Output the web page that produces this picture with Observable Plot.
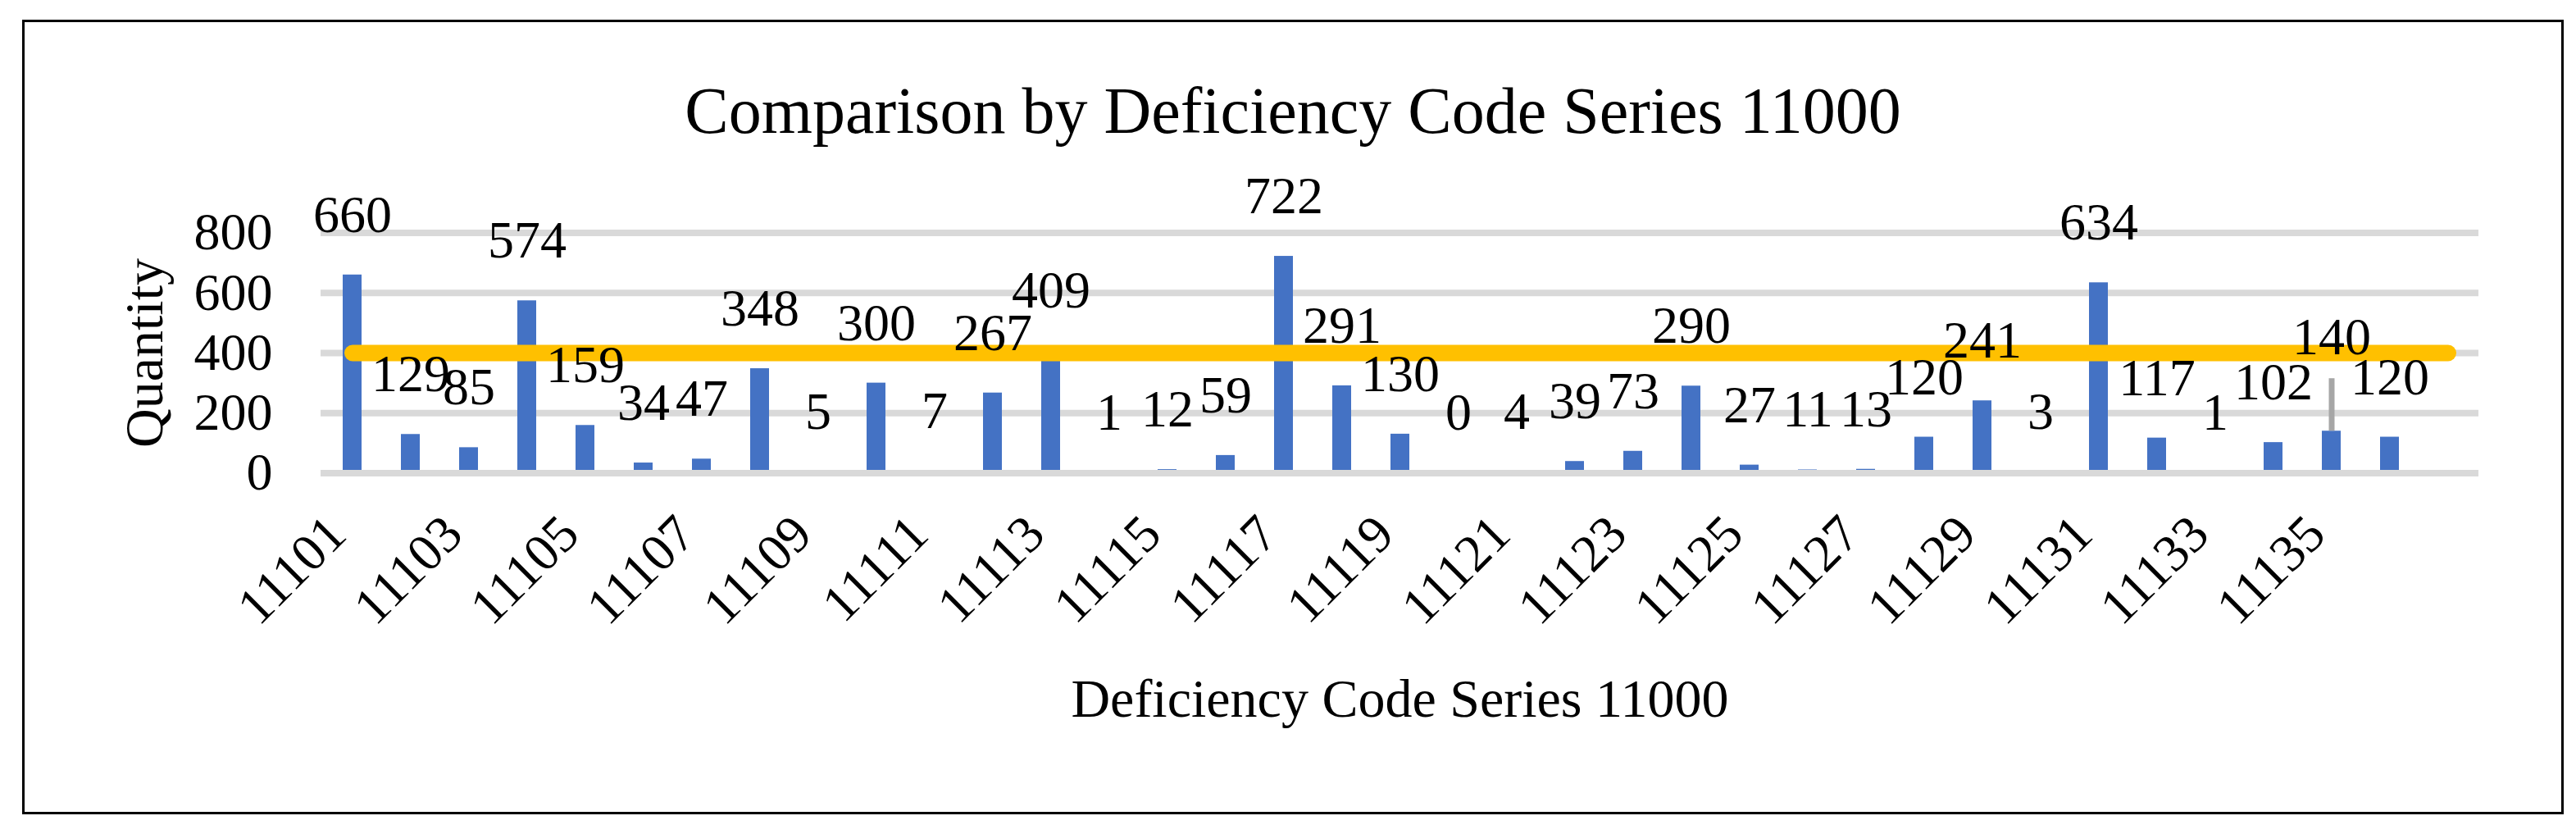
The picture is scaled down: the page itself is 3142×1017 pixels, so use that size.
<!DOCTYPE html>
<html>
<head>
<meta charset="utf-8">
<script src="https://cdn.jsdelivr.net/npm/d3@7"></script>
<script src="https://cdn.jsdelivr.net/npm/@observablehq/plot@0.6"></script>
<style>
  html, body { margin: 0; padding: 0; background: #fff; }
  #wrap { position: relative; width: 3142px; height: 1017px; overflow: hidden;
          font-family: "Liberation Serif", "Times New Roman", serif; }
  #frame { position: absolute; left: 27px; top: 24px; width: 3100px; height: 969px;
           border: 3px solid #000; box-sizing: border-box; pointer-events: none; }
  #title { position: absolute; left: 27px; width: 3100px; top: 95px; margin: 0;
           font-size: 80px; line-height: 80px; font-weight: normal; text-align: center; color: #000;
           font-family: "Liberation Serif", "Times New Roman", serif; }
  #chart { position: absolute; left: 0; top: 190px; }
</style>
</head>
<body>
<div id="wrap">
  <div id="frame"></div>
  <h1 id="title">Comparison by Deficiency Code Series 11000</h1>
  <div id="chart"></div>
</div>
<script>
// Categories (deficiency codes); the last category has no bar and no label
const categories = [
  "11101","11102","11103","11104","11105","11106","11107","11108","11109","11110",
  "11111","11112","11113","11114","11115","11116","11117","11118","11119","11120",
  "11121","11122","11123","11124","11125","11126","11127","11128","11129","11130",
  "11131","11132","11133","11134","11135","11136",""
];
// Quantity per code
const quantities = [
  660, 129, 85, 574, 159, 34, 47, 348, 5, 300,
  7, 267, 409, 1, 12, 59, 722, 291, 130, 0,
  4, 39, 73, 290, 27, 11, 13, 120, 241, 3,
  634, 117, 1, 102, 140, 120
];
// Reference (target) line series
const targetValues = [
  400, 400, 400, 400, 400, 400, 400, 400, 400, 400,
  400, 400, 400, 400, 400, 400, 400, 400, 400, 400,
  400, 400, 400, 400, 400, 400, 400, 400, 400, 400,
  400, 400, 400, 400, 400, 400, 400
];
// Axis tick labels
const xTickLabels = [
  "11101","11103","11105","11107","11109","11111","11113","11115","11117",
  "11119","11121","11123","11125","11127","11129","11131","11133","11135"
];
const yTicks = [0, 200, 400, 600, 800];
// Label that was moved up with a leader line
const leaderCode = "11135";

const FONT = '"Liberation Serif", "Times New Roman", serif';

const bars = quantities.map((q, i) => ({code: categories[i], qty: q}));
const line = categories.map((c, i) => ({code: c, target: targetValues[i]}));

const chart = Plot.plot({
  width: 3142,
  height: 827,
  marginLeft: 391,
  marginRight: 119,
  marginTop: 93.5,
  marginBottom: 440.5,
  style: {fontFamily: FONT, fontSize: "64px", color: "#000", background: "transparent", overflow: "visible"},
  x: {domain: categories, paddingInner: 0.677, paddingOuter: 0.3385, axis: null},
  y: {domain: [0, 800], axis: null},
  marks: [
    Plot.gridY(yTicks.filter(v => v > 0), {stroke: "#d9d9d9", strokeOpacity: 1, strokeWidth: 8}),
    Plot.barY(bars, {x: "code", y: "qty", fill: "#4472C4"}),
    Plot.ruleY([0], {stroke: "#d9d9d9", strokeWidth: 8}),
    Plot.line(line, {x: "code", y: "target", stroke: "#FFC000", strokeWidth: 20,
                     strokeLinecap: "round", strokeLinejoin: "round"}),
    Plot.ruleX(bars.filter(d => d.code === leaderCode),
               {x: "code", y1: "qty", y2: "qty", insetTop: -64, stroke: "#a6a6a6", strokeWidth: 7}),
    Plot.text(bars.filter(d => d.code !== leaderCode),
              {x: "code", y: "qty", text: d => String(d.qty), dy: -73, fontSize: 64, fill: "#000"}),
    Plot.text(bars.filter(d => d.code === leaderCode),
              {x: "code", y: "qty", text: d => String(d.qty), dy: -114, fontSize: 64, fill: "#000"}),
    Plot.axisY({ticks: yTicks, tickSize: 0, tickPadding: 59, fontSize: 64, label: null}),
    Plot.axisX({ticks: xTickLabels, tickSize: 0, tickPadding: 63.5, tickRotate: -45, dx: -19,
                fontSize: 64, label: null}),
    Plot.text(["Quantity"], {text: d => d, frameAnchor: "left", dx: -194, rotate: -90,
                             textAnchor: "middle", lineAnchor: "bottom", fontSize: 66, fill: "#000"}),
    Plot.text(["Deficiency Code Series 11000"], {text: d => d, frameAnchor: "bottom", dy: 296.5,
                             textAnchor: "middle", lineAnchor: "bottom", fontSize: 66, fill: "#000"})
  ]
});
document.getElementById("chart").appendChild(chart);
</script>
</body>
</html>
